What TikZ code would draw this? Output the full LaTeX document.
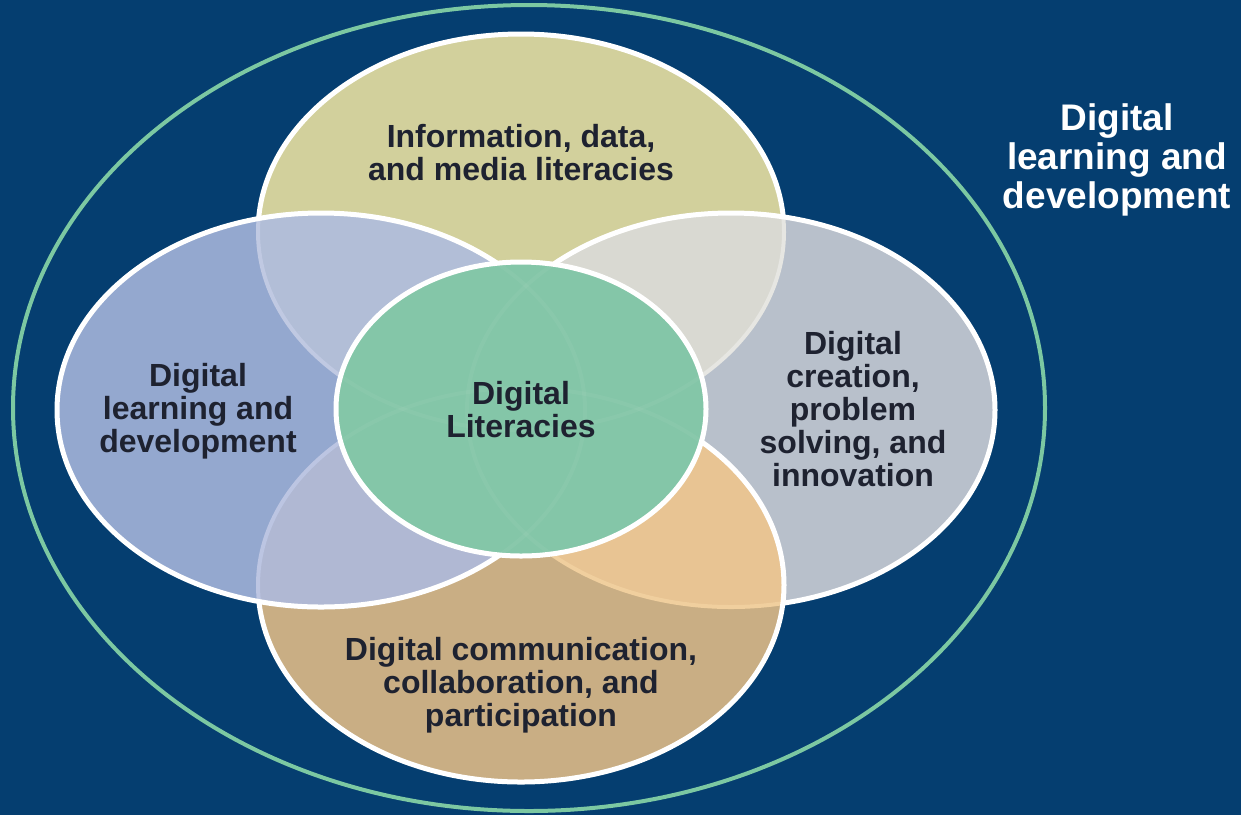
\documentclass[tikz,border=0pt]{standalone}
\usepackage{fontspec}
\setmainfont{Liberation Sans}
\definecolor{bgc}{HTML}{053E70}
\definecolor{ringc}{HTML}{7CC8A2}
\definecolor{topc}{HTML}{D2D09C}
\definecolor{leftc}{HTML}{94A8CF}
\definecolor{rightc}{HTML}{B8C0CB}
\definecolor{botc}{HTML}{C9AE84}
\definecolor{cenc}{HTML}{84C6A8}
\definecolor{tlc}{HTML}{B2BED7}
\definecolor{trc}{HTML}{D9D9D2}
\definecolor{blc}{HTML}{B0B8D3}
\definecolor{brc}{HTML}{E8C493}
\definecolor{ftl}{HTML}{C0C9E2}
\definecolor{ftr}{HTML}{E6E6E2}
\definecolor{fbl}{HTML}{BCC5E2}
\definecolor{fbr}{HTML}{F0CF9E}
\definecolor{txtc}{HTML}{1E2230}
\tikzset{
  ET/.style={insert path={(521,232) ellipse [x radius=263pt, y radius=198pt]}},
  EL/.style={insert path={(321,410) ellipse [x radius=264pt, y radius=197pt]}},
  ER/.style={insert path={(731,410) ellipse [x radius=264pt, y radius=197pt]}},
  EB/.style={insert path={(521,585) ellipse [x radius=263pt, y radius=197pt]}},
  EC/.style={insert path={(521,409) ellipse [x radius=185pt, y radius=147pt]}},
  wborder/.style={draw=white, line width=5pt},
  fborder/.style={line width=4pt},
  txt/.style={font=\fontsize{32}{33}\selectfont\bfseries, text=txtc, align=center, inner sep=0pt},
  outtxt/.style={font=\fontsize{37}{39}\selectfont\bfseries, text=white, align=center, inner sep=0pt}
}
\begin{document}
\begin{tikzpicture}[x=1pt,y=-1pt]
\useasboundingbox (0,0) rectangle (1241,815);
\fill[bgc] (0,0) rectangle (1241,815);
\draw[ringc, line width=4pt] (529,408) ellipse [x radius=516pt, y radius=403pt];
% top
\path[fill=topc, wborder, ET];
% right over top
\fill[rightc, ER];
\begin{scope}\clip[ET]; \fill[trc, ER];\end{scope}
\begin{scope}\clip[ER]; \draw[ftr, fborder, ET];\end{scope}
\path[wborder, ER];
% bottom over right
\fill[botc, EB];
\begin{scope}\clip[ER]; \fill[brc, EB];\end{scope}
\begin{scope}\clip[EB]; \draw[fbr, fborder, ER];\end{scope}
\path[wborder, EB];
% left over top and bottom
\fill[leftc, EL];
\begin{scope}\clip[ET]; \fill[tlc, EL];\end{scope}
\begin{scope}\clip[EB]; \fill[blc, EL];\end{scope}
\begin{scope}\clip[EL]; \draw[ftl, fborder, ET]; \draw[fbl, fborder, EB];\end{scope}
\path[wborder, EL];
% centre
\fill[cenc, EC];
\begin{scope}\clip[EC];
  \draw[white, opacity=0.045, fborder, ET];
  \draw[white, opacity=0.045, fborder, EL];
  \draw[white, opacity=0.045, fborder, ER];
  \draw[white, opacity=0.045, fborder, EB];
\end{scope}
\path[wborder, EC];
% texts
\node[txt] (ntop) at (521,153) {Information, data,\\and media literacies};
\node[txt] (nleft) at (198,411) {Digital\\learning and\\development};
\node[txt] (nright) at (853,409) {Digital\\creation,\\problem\\solving, and\\innovation};
\node[txt] (nbot) at (521,685) {Digital communication,\\collaboration, and\\participation};
\node[txt] (ncen) at (521,410) {Digital\\Literacies};
\node[outtxt] (nout) at (1117,160) {Digital\\learning and\\development};
\end{tikzpicture}
\end{document}
